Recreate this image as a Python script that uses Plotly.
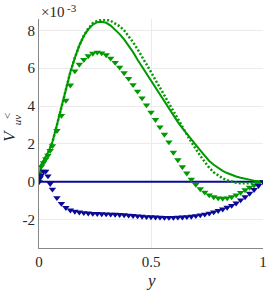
import plotly.graph_objects as go

# ---- data (values in units of 1e-3) ----
x_grid = [0.0, 0.005, 0.01, 0.02, 0.03, 0.04, 0.05, 0.06, 0.08, 0.10, 0.12, 0.14, 0.16, 0.18,
          0.20, 0.22, 0.24, 0.26, 0.28, 0.30, 0.32, 0.34, 0.36, 0.38, 0.40, 0.42, 0.44,
          0.46, 0.48, 0.50, 0.52, 0.54, 0.56, 0.58, 0.60, 0.62, 0.64, 0.66, 0.68, 0.70,
          0.72, 0.74, 0.76, 0.78, 0.80, 0.82, 0.84, 0.86, 0.88, 0.90, 0.92, 0.94, 0.96,
          0.98, 1.0]

green_solid = [0.0, 0.5, 0.9, 1.1, 1.3, 1.55, 1.8, 2.1, 3.0, 3.95, 4.9, 5.8, 6.55, 7.2,
               7.7, 8.05, 8.3, 8.43, 8.45, 8.4, 8.25, 8.05, 7.8, 7.52, 7.2, 6.85, 6.45,
               6.08, 5.7, 5.32, 4.95, 4.57, 4.2, 3.85, 3.5, 3.15, 2.83, 2.52, 2.22, 1.95,
               1.66, 1.4, 1.1, 0.9, 0.73, 0.58, 0.46, 0.36, 0.28, 0.21, 0.15, 0.1, 0.06,
               0.03, 0.0]

green_dotted = [0.0, 0.5, 0.9, 1.1, 1.3, 1.55, 1.8, 2.1, 3.0, 3.95, 4.9, 5.8, 6.55, 7.2,
                7.72, 8.1, 8.38, 8.5, 8.55, 8.56, 8.5, 8.38, 8.22, 8.0, 7.7, 7.37, 7.0,
                6.62, 6.22, 5.8, 5.38, 4.96, 4.54, 4.1, 3.68, 3.27, 2.88, 2.5, 2.1, 1.72,
                1.37, 1.05, 0.74, 0.5, 0.32, 0.18, 0.08, 0.0, -0.05, -0.08, -0.09, -0.08, -0.06,
                -0.03, 0.0]

green_tri = [0.0, 0.5, 0.8, 1.0, 1.2, 1.4, 1.65, 1.9, 2.7, 3.5, 4.3, 5.1, 5.85, 6.2,
             6.45, 6.65, 6.78, 6.84, 6.8, 6.7, 6.52, 6.3, 6.05, 5.75, 5.45, 5.12, 4.78,
             4.42, 4.05, 3.67, 3.28, 2.89, 2.5, 2.1, 1.55, 1.15, 0.78, 0.45, 0.12, -0.15,
             -0.38, -0.56, -0.7, -0.8, -0.86, -0.88, -0.86, -0.8, -0.7, -0.57, -0.43, -0.3, -0.18,
             -0.08, 0.0]

blue_tri = [0.0, 0.2, 0.35, 0.55, 0.55, 0.3, -0.1, -0.4, -0.85, -1.15, -1.37, -1.5, -1.57, -1.61,
            -1.64, -1.66, -1.68, -1.69, -1.7, -1.71, -1.72, -1.73, -1.74, -1.75, -1.77, -1.79, -1.81,
            -1.83, -1.85, -1.86, -1.87, -1.88, -1.89, -1.89, -1.89, -1.88, -1.87, -1.85, -1.83, -1.8,
            -1.76, -1.72, -1.67, -1.6, -1.53, -1.45, -1.36, -1.26, -1.13, -0.97, -0.8, -0.62, -0.42,
            -0.21, 0.0]

blue_line_x = [0.0, 1.0]
blue_line = [0.0, 0.0]

y_ticks = [-2, 0, 2, 4, 6, 8]
y_ticklabels = ["-2", "0", "2", "4", "6", "8"]
x_ticks = [0, 0.5, 1]
x_ticklabels = ["0", "0.5", "1"]

GREEN = "rgb(0,153,0)"
BLUE = "rgb(10,10,150)"
FONT = "Liberation Serif, DejaVu Serif, serif"
TXT = "#262626"

fig = go.Figure()
fig.add_trace(go.Scatter(x=blue_line_x, y=blue_line, mode="lines",
                         line=dict(color=BLUE, width=1.8)))
fig.add_trace(go.Scatter(x=x_grid, y=green_solid, mode="lines",
                         line=dict(color=GREEN, width=2)))
fig.add_trace(go.Scatter(x=x_grid, y=green_dotted, mode="lines",
                         line=dict(color=GREEN, width=2.5, dash="2px,2px")))
fig.add_trace(go.Scatter(x=x_grid, y=green_tri, mode="markers",
                         marker=dict(symbol="triangle-down", size=6.5, color=GREEN)))
fig.add_trace(go.Scatter(x=x_grid, y=blue_tri, mode="markers",
                         marker=dict(symbol="triangle-down", size=6.5, color=BLUE)))

fig.update_layout(
    width=270, height=292,
    margin=dict(l=39, r=3, t=19, b=44),
    paper_bgcolor="white", plot_bgcolor="white",
    showlegend=False,
    font=dict(family=FONT, size=14, color=TXT),
    xaxis=dict(range=[0, 1], tickvals=x_ticks, ticktext=x_ticklabels,
               showgrid=True, gridcolor="#ebebeb", gridwidth=1,
               showline=True, linecolor="#888", linewidth=1, zeroline=False,
               ticks="", ticklabeloverflow="allow",
               tickfont=dict(family=FONT, size=15, color=TXT)),
    yaxis=dict(range=[-3.5, 8.6], tickvals=y_ticks, ticktext=y_ticklabels,
               showgrid=True, gridcolor="#ebebeb", gridwidth=1,
               showline=True, linecolor="#888", linewidth=1, zeroline=False,
               ticks="", ticklabeloverflow="allow",
               tickfont=dict(family=FONT, size=15, color=TXT)),
)

ann = [
    dict(text="<i>V</i>", x=-0.134, y=0.493, size=17),
    dict(text="<i>uv</i>", x=-0.097, y=0.559, size=11),
    dict(text="&lt;", x=-0.145, y=0.574, size=11),
]
for a in ann:
    fig.add_annotation(xref="paper", yref="paper", showarrow=False, textangle=-90,
                       xanchor="center", yanchor="middle",
                       font=dict(family=FONT, size=a["size"], color=TXT),
                       text=a["text"], x=a["x"], y=a["y"])

fig.add_annotation(xref="paper", yref="paper", showarrow=False,
                   text="×10", x=0.0, y=1.0, xanchor="left", yanchor="bottom",
                   yshift=-3, font=dict(family=FONT, size=15, color=TXT))
fig.add_annotation(xref="paper", yref="paper", showarrow=False,
                   text="-3", x=0.115, y=1.0, xanchor="left", yanchor="bottom",
                   yshift=3, font=dict(family=FONT, size=11, color=TXT))
fig.add_annotation(xref="paper", yref="paper", showarrow=False,
                   text="<i>y</i>", x=0.5, y=-0.141, xanchor="center", yanchor="middle",
                   font=dict(family=FONT, size=17, color=TXT))

fig.write_html("out.html", config={"displayModeBar": False},
               post_script="document.body.style.margin='0';document.body.style.padding='0';")
